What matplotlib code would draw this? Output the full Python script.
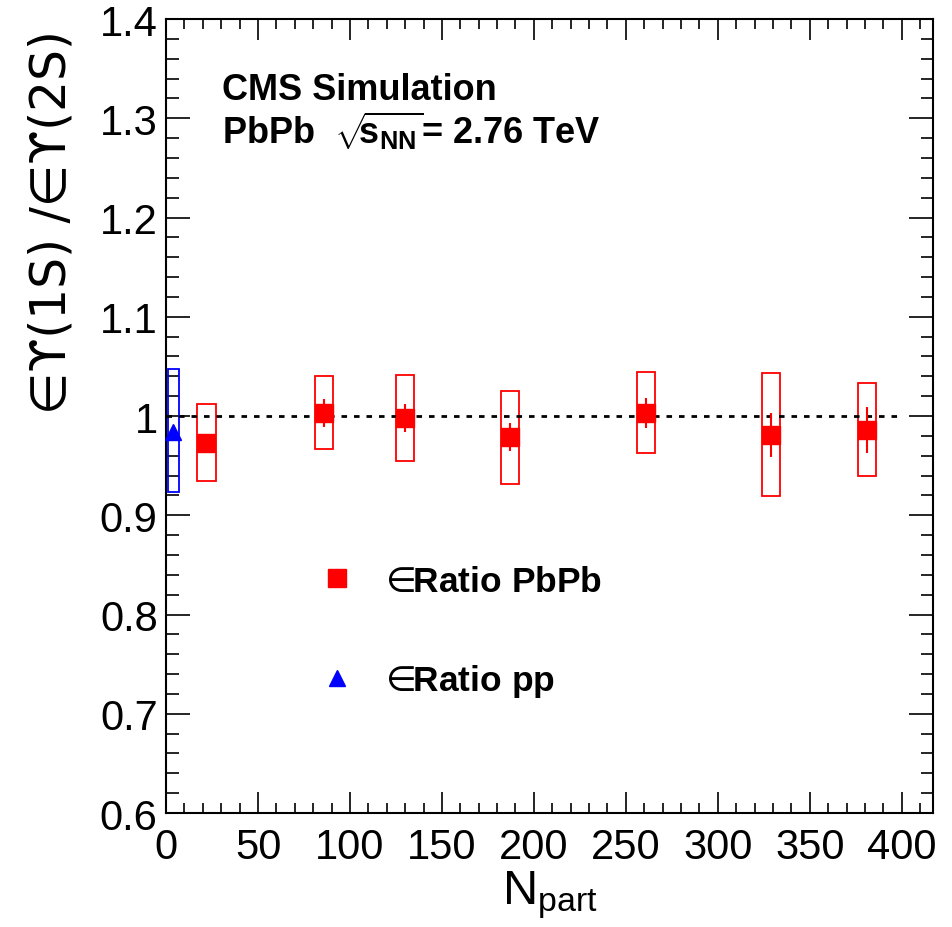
import matplotlib
matplotlib.use("Agg")
import matplotlib.pyplot as plt
from matplotlib.lines import Line2D
from matplotlib.ticker import MultipleLocator, FuncFormatter

plt.rcParams['font.family'] = ['Liberation Sans', 'DejaVu Sans']
plt.rcParams['mathtext.fontset'] = 'custom'
plt.rcParams['mathtext.rm'] = 'DejaVu Sans'
plt.rcParams['mathtext.bf'] = 'Liberation Sans:bold'
plt.rcParams['mathtext.it'] = 'Liberation Sans:italic'
plt.rcParams['mathtext.default'] = 'regular'

# PbPb points (Npart, ratio, stat err, syst box low/high)
npart = [22, 86, 130, 187, 261, 329, 381]
ratio = [0.973, 1.003, 0.998, 0.979, 1.003, 0.981, 0.986]
stat = [0.006, 0.014, 0.014, 0.014, 0.015, 0.022, 0.023]
syst_lo = [0.935, 0.967, 0.955, 0.932, 0.963, 0.919, 0.940]
syst_hi = [1.012, 1.040, 1.041, 1.025, 1.044, 1.043, 1.033]

# pp point
pp_x = [4]
pp_ratio = [0.984]
pp_lo = [0.923]
pp_hi = [1.047]

xticks = [0, 50, 100, 150, 200, 250, 300, 350, 400]
yticks = [0.6, 0.7, 0.8, 0.9, 1.0, 1.1, 1.2, 1.3, 1.4]

fig = plt.figure(figsize=(9.52, 9.28), dpi=100)
ax = fig.add_axes([0.1744, 0.1228, 0.8056, 0.8556])

# syst boxes
ax.bar(npart, [h - l for h, l in zip(syst_hi, syst_lo)], bottom=syst_lo, width=10,
       fill=False, edgecolor='red', linewidth=1.3, zorder=2)
ax.bar(pp_x, [h - l for h, l in zip(pp_hi, pp_lo)], bottom=pp_lo, width=6,
       fill=False, edgecolor='blue', linewidth=1.3, zorder=2)

# reference line
ax.hlines(1.0, 0, 400, colors='black', linestyles=(0, (2, 2.5)), linewidth=2, zorder=3)

ax.errorbar(npart, ratio, yerr=stat, fmt='s', color='red', ms=13, elinewidth=1.5,
            capsize=0, zorder=4)
ax.plot(pp_x, pp_ratio, '^', color='blue', ms=12, zorder=4, clip_on=False)

ax.set_xlim(0, 417)
ax.set_ylim(0.6, 1.4)
ax.set_xticks(xticks)
ax.set_yticks(yticks)
ax.xaxis.set_minor_locator(MultipleLocator(10))
ax.yaxis.set_minor_locator(MultipleLocator(0.02))
fmt = FuncFormatter(lambda v, p: '%g' % round(v, 2))
ax.xaxis.set_major_formatter(fmt)
ax.yaxis.set_major_formatter(fmt)
ax.tick_params(which='both', direction='in', top=True, right=True, width=1.2,
               labelsize=30)
ax.tick_params(axis='x', which='major', length=15, pad=10)
ax.tick_params(axis='x', which='minor', length=7.5)
ax.tick_params(axis='y', which='major', length=17, pad=6)
ax.tick_params(axis='y', which='minor', length=9)
for s in ax.spines.values():
    s.set_linewidth(1.5)

ax.set_xlabel(r'N$_{part}$', fontsize=35)
ax.xaxis.set_label_coords(0.5, -0.07)
ax.xaxis.label.set_va('top')

fig.text(0.0536, 0.967, '∈ϒ(1S) /∈ϒ(2S)', rotation=90, ha='center', va='top',
         fontsize=35, family='DejaVu Sans')

ax.text(0.073, 0.899, 'CMS Simulation', transform=ax.transAxes, fontsize=26,
        fontweight='bold', va='baseline')
ax.text(0.073, 0.844, r'PbPb  $\sqrt{\!\!s_{NN}}$= 2.76 TeV', transform=ax.transAxes,
        fontsize=26, fontweight='bold', va='baseline')

handles = [Line2D([], [], ls='none', marker='s', color='red', ms=13),
           Line2D([], [], ls='none', marker='^', color='blue', ms=12)]
labels = [r'$\mathrm{\in}\!\!\mathbf{Ratio\ PbPb}$', r'$\mathrm{\in}\!\!\mathbf{Ratio\ pp}$']
ax.legend(handles, labels, loc='upper left', bbox_to_anchor=(0.2008, 0.313),
          frameon=False, fontsize=25.5, handlelength=0.94, handletextpad=0.75,
          labelspacing=1.82, borderpad=0, borderaxespad=0)

fig.savefig('out.png', dpi=100)
